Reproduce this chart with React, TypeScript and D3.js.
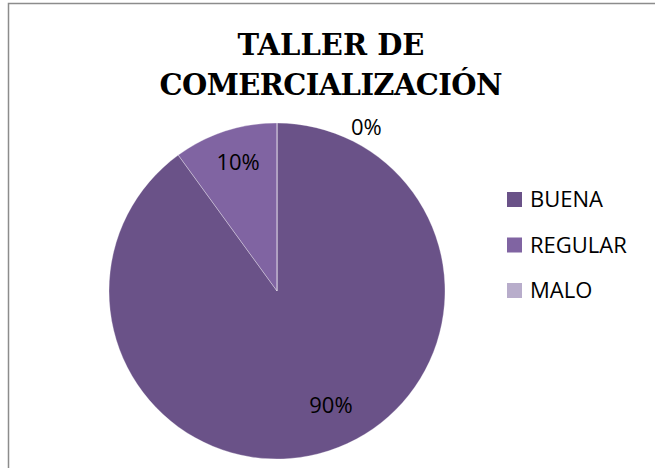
import React, { useEffect, useRef } from "react";
import * as d3 from "d3";

// datos del gráfico
const categories = ["BUENA", "REGULAR", "MALO"];
const values = [90, 10, 0];
const colors = ["#6A5288", "#8064A2", "#B8ADCB"];
const titleLines = ["TALLER DE", "COMERCIALIZACIÓN"];

const App = () => {
  const svgRef = useRef<SVGSVGElement>(null);

  useEffect(() => {
    const svg = d3.select(svgRef.current);
    svg.selectAll("*").remove();

    const width = 655;
    const height = 468;
    const cx = 277;
    const cy = 291;
    const r = 168;

    // marco
    svg
      .append("rect")
      .attr("x", 8.5)
      .attr("y", 3.5)
      .attr("width", width + 20)
      .attr("height", height + 20)
      .attr("fill", "#fff")
      .attr("stroke", "#8c8c8c")
      .attr("stroke-width", 1.5);

    // título
    svg
      .append("text")
      .attr("text-anchor", "middle")
      .attr("font-family", "'DejaVu Serif', serif")
      .attr("font-weight", "bold")
      .attr("font-size", 29)
      .selectAll("tspan")
      .data(titleLines)
      .enter()
      .append("tspan")
      .attr("x", 331)
      .attr("y", (_d, i) => 55 + i * 40)
      .attr("textLength", (_d, i) => (i === 1 ? 343 : null))
      .attr("lengthAdjust", "spacing")
      .text((d) => d);

    const data = categories.map((c, i) => ({ name: c, value: values[i] }));
    const pie = d3
      .pie<{ name: string; value: number }>()
      .value((d) => d.value)
      .sort(null);
    const arcs = pie(data);
    const arc = d3.arc<d3.PieArcDatum<{ name: string; value: number }>>().innerRadius(0).outerRadius(r);
    const labelArc = d3
      .arc<d3.PieArcDatum<{ name: string; value: number }>>()
      .innerRadius(r * 0.75)
      .outerRadius(r * 0.75);

    const g = svg.append("g").attr("transform", `translate(${cx},${cy})`);

    g.selectAll("path")
      .data(arcs)
      .enter()
      .append("path")
      .attr("d", arc)
      .attr("fill", (_d, i) => colors[i])
      .attr("stroke", "#fff")
      .attr("stroke-width", 0.6)
      .attr("stroke-opacity", 0.5);

    // etiquetas de porcentaje
    const total = d3.sum(values);
    g.selectAll("text.lbl")
      .data(arcs)
      .enter()
      .append("text")
      .attr("class", "lbl")
      .attr("transform", (d) => {
        if (d.value === 0) {
          // sector vacío: etiqueta fuera del círculo
          const a = d.startAngle + 0.5;
          return `translate(${Math.sin(a) * r * 1.11},${-Math.cos(a) * r * 1.11})`;
        }
        const [x, y] = labelArc.centroid(d);
        return d.index === 0 ? `translate(${x + 15},${y - 6})` : `translate(${x},${y - 9})`;
      })
      .attr("text-anchor", "middle")
      .attr("dy", "0.36em")
      .attr("font-family", "'Open Sans', sans-serif")
      .attr("font-size", 22)
      .attr("fill", "#000")
      .text((d) => `${Math.round((d.value / total) * 100)}%`);

    // leyenda
    const y = d3.scalePoint<string>().domain(categories).range([199.5, 290.5]);
    const legend = svg
      .append("g")
      .selectAll("g")
      .data(categories)
      .enter()
      .append("g")
      .attr("transform", (d) => `translate(507,${y(d)})`);

    legend
      .append("rect")
      .attr("x", 0)
      .attr("y", -7.5)
      .attr("width", 15)
      .attr("height", 15)
      .attr("fill", (_d, i) => colors[i]);

    legend
      .append("text")
      .attr("x", 23)
      .attr("dy", "0.36em")
      .attr("font-family", "'Open Sans', sans-serif")
      .attr("font-size", 22)
      .attr("fill", "#000")
      .text((d) => d);
  }, []);

  return (
    <svg
      ref={svgRef}
      width={655}
      height={468}
      style={{ position: "absolute", left: 0, top: 0 }}
    ></svg>
  );
};

export default App;
